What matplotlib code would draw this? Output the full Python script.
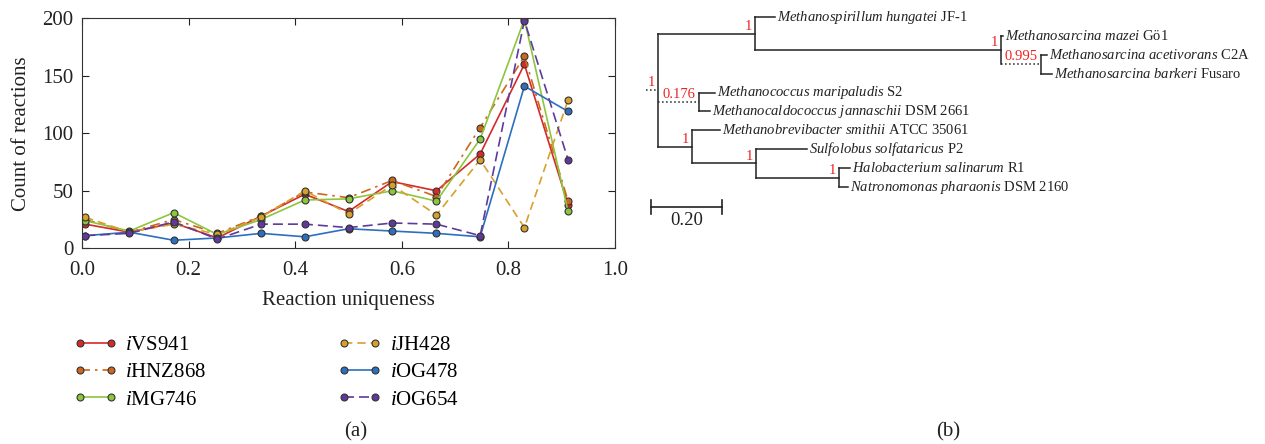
import matplotlib
matplotlib.use("Agg")
import matplotlib.pyplot as plt
import numpy as np

plt.rcParams['font.family'] = ['Liberation Serif', 'DejaVu Serif']
plt.rcParams['mathtext.fontset'] = 'custom'
plt.rcParams['mathtext.rm'] = 'Liberation Serif'
plt.rcParams['mathtext.it'] = 'Liberation Serif:italic'
plt.rcParams['mathtext.bf'] = 'Liberation Serif:bold'

# ---------------- data: panel (a) ----------------
uniqueness = [0.006, 0.089, 0.172, 0.254, 0.336, 0.418, 0.500, 0.582, 0.665, 0.747, 0.830, 0.912]
iVS941 = [21, 14, 22, 9, 28, 47, 32, 58, 50, 82, 160, 38]
iHNZ868 = [25, 14, 25, 13, 28, 49, 44, 59, 45, 105, 167, 41]
iMG746 = [24, 15, 31, 12, 25, 42, 43, 50, 41, 95, 199, 32]
iJH428 = [27, 14, 21, 12, 27, 50, 30, 55, 29, 77, 18, 129]
iOG478 = [11, 14, 7, 9, 13, 10, 17, 15, 13, 10, 141, 119]
iOG654 = [11, 13, 23, 8, 21, 21, 18, 22, 21, 11, 198, 77]
model_names = ["VS941", "HNZ868", "MG746", "JH428", "OG478", "OG654"]
x_ticks = [0.0, 0.2, 0.4, 0.6, 0.8, 1.0]
y_ticks = [0, 50, 100, 150, 200]

# ---------------- data: panel (b) tree ----------------
# node: (name, parent, branch length, support, label)
tree_nodes = [
    ("root", None, 0.0, "1", None),
    ("A", "root", 0.273, "1", None),
    ("spir", "A", 0.056, None, r"$\mathit{Methanospirillum\ hungatei}$ JF-1"),
    ("S", "A", 0.693, "1", None),
    ("mazei", "S", 0.006, None, r"$\mathit{Methanosarcina\ mazei}$ Gö1"),
    ("AB", "S", 0.113, "0.995", None),
    ("acet", "AB", 0.017, None, r"$\mathit{Methanosarcina\ acetivorans}$ C2A"),
    ("bark", "AB", 0.030, None, r"$\mathit{Methanosarcina\ barkeri}$ Fusaro"),
    ("M", "root", 0.115, "0.176", None),
    ("mari", "M", 0.045, None, r"$\mathit{Methanococcus\ maripaludis}$ S2"),
    ("jann", "M", 0.031, None, r"$\mathit{Methanocaldococcus\ jannaschii}$ DSM $\mathit{2661}$"),
    ("L", "root", 0.096, "1", None),
    ("smit", "L", 0.079, None, r"$\mathit{Methanobrevibacter\ smithii}$ ATCC $\mathit{35061}$"),
    ("SH", "L", 0.180, "1", None),
    ("sulf", "SH", 0.144, None, r"$\mathit{Sulfolobus\ solfataricus}$ P2"),
    ("HN", "SH", 0.234, "1", None),
    ("halo", "HN", 0.031, None, r"$\mathit{Halobacterium\ salinarum}$ R1"),
    ("natr", "HN", 0.025, None, r"$\mathit{Natronomonas\ pharaonis}$ DSM 2160"),
]
dotted_branches = ["AB", "M"]
scale_length = 0.20

colors = ["#d42a2a", "#d0651c", "#8cc63e", "#d7a02b", "#2c6fc0", "#5f3a9c"]
styles = ["-", (0, (6, 3, 1.5, 3)), "-", (0, (5, 3)), "-", (0, (6, 3))]

W, H = 1265, 444
fig = plt.figure(figsize=(W / 100, H / 100), dpi=100)

# ---------------- panel (a) ----------------
ax = fig.add_axes([82 / W, 1 - 248.3 / H, (615 - 82) / W, (248.3 - 18.3) / H])
series = [iVS941, iHNZ868, iMG746, iJH428, iOG478, iOG654]
handles = []
for vals, c, ls, nm in zip(series, colors, styles, model_names):
    h, = ax.plot(uniqueness, vals, color=c, linestyle=ls, lw=1.2, marker='o',
                 markersize=5, markerfacecolor=c, markeredgecolor='#333333',
                 markeredgewidth=0.8, label=r"$\mathit{i}$" + nm)
    handles.append(h)
ax.set_xlim(0, 1)
ax.set_ylim(0, 200)
ax.set_xticks(x_ticks)
ax.set_xticklabels([f"{v:.1f}" for v in x_ticks])
ax.set_yticks(y_ticks)
ax.tick_params(direction='in', top=True, right=True, length=5, width=0.8,
               labelsize=15, colors='#222222')
ax.tick_params(axis='x', pad=9)
ax.tick_params(axis='y', pad=6)
for s in ax.spines.values():
    s.set_linewidth(0.8)
    s.set_color('#333333')
ax.set_xlabel("Reaction uniqueness", fontsize=15, color='#222222', labelpad=8)
ax.set_ylabel("Count of reactions", fontsize=15, color='#222222', labelpad=8)

leg = fig.legend(handles=handles, ncol=2, loc='upper left', numpoints=2,
                 bbox_to_anchor=(65 / W, 1 - 327 / H), frameon=False,
                 fontsize=15, handlelength=2.1, labelspacing=0.37,
                 columnspacing=6.3, handletextpad=0.4, borderaxespad=0)

fig.text(356 / W, 1 - 432 / H, "(a)", fontsize=15, ha='center', va='center', color='#222222')
fig.text(948 / W, 1 - 432 / H, "(b)", fontsize=15, ha='center', va='center', color='#222222')

# ---------------- panel (b): tree ----------------
root_px, unit_px = 658, 355.0
leaf0_px, leaf_step = 17, 18.9
tx0, tx1 = (630 - root_px) / unit_px, (1265 - root_px) / unit_px
ty0, ty1 = (0 - leaf0_px) / leaf_step, (444 - leaf0_px) / leaf_step
tax = fig.add_axes([630 / W, 0, (1265 - 630) / W, 1])
tax.set_xlim(tx0, tx1)
tax.set_ylim(ty1, ty0)
tax.axis('off')

info = {n[0]: n for n in tree_nodes}
children = {}
for n in tree_nodes:
    if n[1] is not None:
        children.setdefault(n[1], []).append(n[0])
xpos, ypos = {}, {}
leaf_counter = [0]

def layout(name, x):
    xpos[name] = x
    ch = children.get(name, [])
    if not ch:
        ypos[name] = leaf_counter[0]
        leaf_counter[0] += 1
        return
    for c in ch:
        layout(c, x + info[c][2])
    ys = [ypos[c] for c in ch]
    ypos[name] = (min(ys) + max(ys)) / 2

layout("root", 0.0)
lc = '#222222'
px = 1 / unit_px
for name, parent, bl, sup, lab in tree_nodes:
    if parent is not None:
        ls = ':' if name in dotted_branches else '-'
        tax.plot([xpos[parent], xpos[name]], [ypos[name], ypos[name]], color=lc, lw=1.1, ls=ls)
    ch = children.get(name, [])
    if ch:
        ys = [ypos[c] for c in ch]
        tax.plot([xpos[name], xpos[name]], [min(ys), max(ys)], color=lc, lw=1.1)
    if sup is not None:
        tax.text(xpos[name] - 3 * px, ypos[name] - 0.05, sup, color='#ee2222',
                 fontsize=10.5, ha='right', va='bottom')
    if lab is not None:
        tax.text(xpos[name] + 2 * px, ypos[name], lab, fontsize=10.5, ha='left',
                 va='center', color='#222222')
# root stub
tax.plot([xpos["root"] - 12 * px, xpos["root"]], [ypos["root"], ypos["root"]], color=lc, lw=1.1, ls=':')

# scale bar
sb_x0 = (651 - root_px) / unit_px
sb_y = (207 - leaf0_px) / leaf_step
tick_h = 7 / leaf_step
tax.plot([sb_x0, sb_x0 + scale_length], [sb_y, sb_y], color=lc, lw=1.2)
tax.plot([sb_x0, sb_x0], [sb_y - tick_h, sb_y + tick_h], color=lc, lw=1.2)
tax.plot([sb_x0 + scale_length] * 2, [sb_y - tick_h, sb_y + tick_h], color=lc, lw=1.2)
tax.text(sb_x0 + scale_length / 2, sb_y + 13 / leaf_step, f"{scale_length:.2f}",
         fontsize=13.5, ha='center', va='center', color='#222222')

fig.savefig("out.png", dpi=100)
